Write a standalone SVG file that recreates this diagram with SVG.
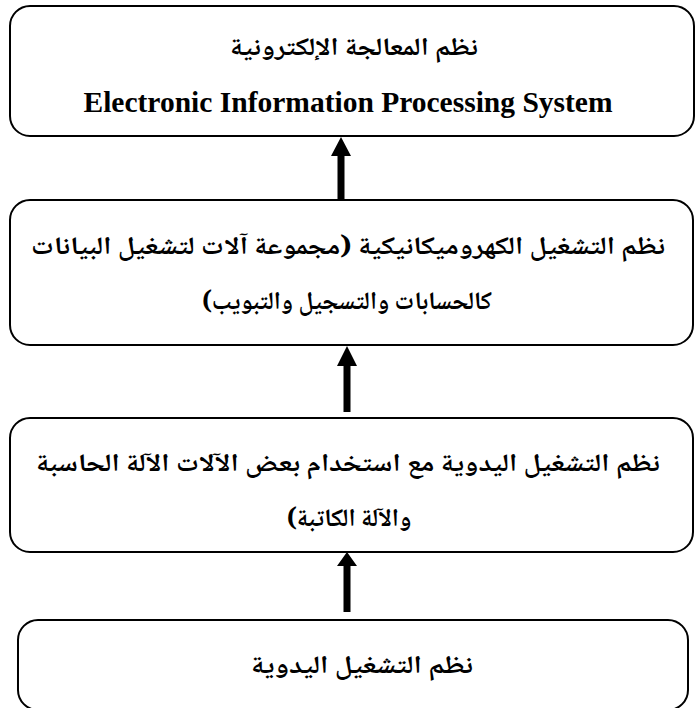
<svg xmlns="http://www.w3.org/2000/svg" width="696" height="708" viewBox="0 0 696 708">
  <style>
    .box { fill: #ffffff; stroke: #000000; stroke-width: 2; }
    .ar { font-family: "Noto Naskh Arabic", "Amiri", "DejaVu Sans", sans-serif; font-weight: bold; font-size: 25px; fill: #000000; text-anchor: middle; direction: rtl; }
    .en { font-family: "Liberation Serif", "Times New Roman", serif; font-weight: bold; font-size: 29.5px; fill: #000000; text-anchor: middle; }
    .arrow { fill: #000000; stroke: none; }
  </style>
  <rect width="696" height="708" fill="#ffffff"/>

  <!-- Top level: electronic processing -->
  <g id="node-electronic">
    <rect class="box" x="10" y="6" width="684" height="130" rx="20" ry="20"/>
    <text class="ar" x="354" y="55" direction="rtl" textLength="248" lengthAdjust="spacingAndGlyphs">نظم المعالجة الإلكترونية</text>
    <text class="en" x="348" y="112">Electronic Information Processing System</text>
  </g>

  <!-- Electromechanical systems -->
  <g id="node-electromechanical">
    <rect class="box" x="10" y="200" width="683" height="145" rx="20" ry="20"/>
    <text class="ar" x="348" y="254" direction="rtl" textLength="634" lengthAdjust="spacingAndGlyphs">نظم التشغيل الكهروميكانيكية (مجموعة آلات لتشغيل البيانات</text>
    <text class="ar" x="347" y="309" direction="rtl" textLength="290" lengthAdjust="spacingAndGlyphs">كالحسابات والتسجيل والتبويب)</text>
  </g>

  <!-- Manual with some machines -->
  <g id="node-manual-machines">
    <rect class="box" x="10" y="418" width="683" height="134" rx="20" ry="20"/>
    <text class="ar" x="348" y="471" direction="rtl" textLength="624" lengthAdjust="spacingAndGlyphs">نظم التشغيل اليدوية مع استخدام بعض الآلات الآلة الحاسبة</text>
    <text class="ar" x="349" y="526" direction="rtl">والآلة الكاتبة)</text>
  </g>

  <!-- Manual systems -->
  <g id="node-manual">
    <rect class="box" x="18" y="620" width="670" height="90" rx="20" ry="20"/>
    <text class="ar" x="362" y="673" direction="rtl" textLength="222" lengthAdjust="spacingAndGlyphs">نظم التشغيل اليدوية</text>
  </g>

  <!-- Upward arrows between levels -->
  <g id="connectors">
    <polygon class="arrow" points="341,137 351,156 344.5,156 344.5,201 337.5,201 337.5,156 331,156"/>
    <polygon class="arrow" points="347,346 357,366 350.5,366 350.5,412 343.5,412 343.5,366 337,366"/>
    <polygon class="arrow" points="347,552 357,566 350.5,566 350.5,612 343.5,612 343.5,566 337,566"/>
  </g>
</svg>
